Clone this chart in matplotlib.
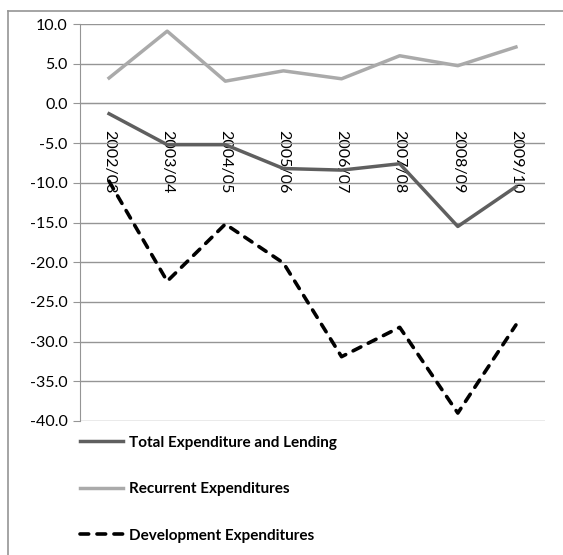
import matplotlib.pyplot as plt
from matplotlib.lines import Line2D

plt.rcParams['font.family'] = ['Lato', 'DejaVu Sans']

years = ['2002/03', '2003/04', '2004/05', '2005/06', '2006/07', '2007/08', '2008/09', '2009/10']
total = [-1.3, -5.2, -5.2, -8.2, -8.4, -7.6, -15.5, -10.5]
recurrent = [3.2, 9.1, 2.8, 4.1, 3.1, 6.0, 4.75, 7.1]
development = [-9.8, -22.4, -15.2, -20.1, -31.9, -28.2, -39.0, -27.9]

W, H = 563, 555
fig = plt.figure(figsize=(W / 100, H / 100), dpi=100)
ax = fig.add_axes([80 / W, 1 - 421 / H, 465 / W, 397 / H])

x = range(len(years))
l1, = ax.plot(x, total, color='#5f5f5f', lw=2.5)
l2, = ax.plot(x, recurrent, color='#aaaaaa', lw=2.5)
l3, = ax.plot(x, development, color='black', lw=2.6, dashes=(2.4, 2.3),
              dash_capstyle='round')

ax.set_xlim(-0.5, len(years) - 0.5)
ax.set_ylim(-40, 10)
ax.set_yticks(range(-40, 11, 5))
ax.set_yticklabels([f'{v:.1f}' for v in range(-40, 11, 5)], fontsize=11.5)
ax.yaxis.grid(True, color='#959595', lw=1)
ax.set_axisbelow(True)

# category axis sits at zero, labels run downward
ax.spines['bottom'].set_position(('data', 0))
ax.spines['bottom'].set_color('#959595')
ax.set_xticks(list(x))
ax.set_xticklabels(years, rotation=270, fontsize=11.5, va='top', ha='center')
ax.tick_params(axis='x', length=0, pad=19)
ax.tick_params(axis='y', length=5, color='#959595', pad=4)
for s in ['top', 'right']:
    ax.spines[s].set_visible(False)
ax.spines['left'].set_color('#959595')

fig.legend([l1, l2, l3],
           ['Total Expenditure and Lending', 'Recurrent Expenditures', 'Development Expenditures'],
           loc='upper left', bbox_to_anchor=(66 / W, 1 - 422 / H), frameon=False,
           prop={'weight': 'bold', 'size': 11}, handlelength=2.8, handletextpad=0.4,
           labelspacing=2.12)

# chart border
fig.add_artist(Line2D([8 / W, 8 / W], [0, 1 - 11 / H], color='#959595', lw=1.2))
fig.add_artist(Line2D([8 / W, 1], [1 - 11 / H, 1 - 11 / H], color='#959595', lw=1.2))

fig.savefig('out.png', dpi=100)
